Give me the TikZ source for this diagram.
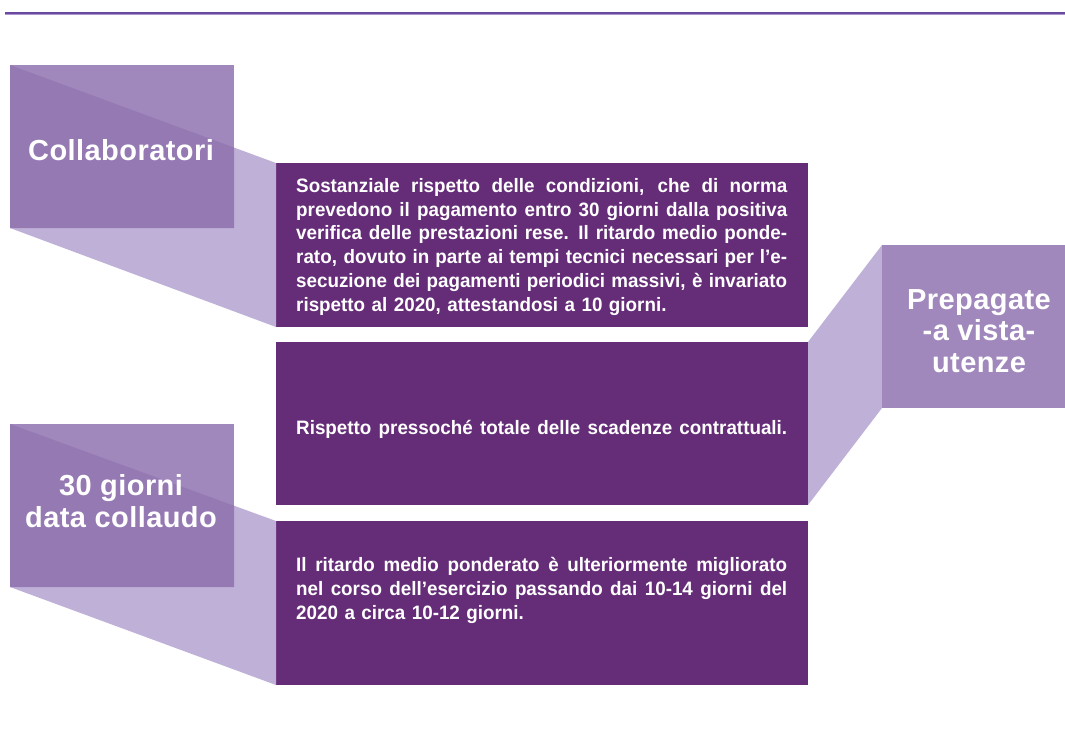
\documentclass[tikz,border=0pt]{standalone}
\usepackage{fontspec}
\usetikzlibrary{calc}
\setmainfont{Liberation Sans}
\newfontfamily\bodyfont[FakeStretch=0.97]{Liberation Sans}
\newfontfamily\labelfont[LetterSpace=1.5]{Liberation Sans}
\definecolor{darkbox}{HTML}{652C77}
\definecolor{labbox}{HTML}{A088BC}
\definecolor{overlap}{HTML}{9579B3}
\definecolor{trap}{HTML}{BFB0D8}
\definecolor{topdark}{HTML}{6A4A9E}
\definecolor{toplight}{HTML}{AE95CF}
\newcommand{\jline}[1]{\leavevmode\hbox to 491pt{\spaceskip=0.2em plus 1fil minus 0.1em\relax #1}}
\begin{document}
\begin{tikzpicture}[x=1pt,y=-1pt,
  textbox/.style={fill=darkbox,draw=none,minimum width=532pt,minimum height=164pt,anchor=north west,inner sep=0pt,outer sep=0pt},
  labelbox/.style={fill=labbox,draw=none,minimum width=224pt,minimum height=163pt,anchor=north west,inner sep=0pt,outer sep=0pt},
  bodytext/.style={text=white,anchor=north west,inner sep=0pt,text width=491pt,align=left,font=\bodyfont\bfseries\fontsize{19.4}{23.8}\selectfont},
  labeltext/.style={text=white,inner sep=0pt,align=center,font=\labelfont\bfseries\fontsize{29}{31.5}\selectfont},
  trapfill/.style={fill=trap,draw=none},
  overfill/.style={fill=overlap,draw=none}]
\useasboundingbox (0,0) rectangle (1065,728);
% top rule
\fill[topdark] (5,11.8) rectangle (1065,13.8);
\fill[toplight] (5,13.8) rectangle (1065,15.2);
% boxes (named)
\node[textbox] (b1) at (276,163) {};
\node[textbox,minimum height=163pt] (b2) at (276,342) {};
\node[textbox,minimum height=164pt] (b3) at (276,521) {};
\node[labelbox] (l1) at (10,65) {};
\node[labelbox] (l3) at (10,424) {};
\node[labelbox,minimum width=183pt] (l2) at (882,245) {};
% trapezoid connectors
\fill[trapfill] (l1.north west) -- (b1.north west) -- (b1.south west) -- (l1.south west) -- cycle;
\fill[trapfill] (l3.north west) -- (b3.north west) -- (b3.south west) -- (l3.south west) -- cycle;
\fill[trapfill] (b2.north east) -- (l2.north west) -- (l2.south west) -- (b2.south east) -- cycle;
% redraw label boxes over the connectors
\fill[labbox] (l1.north west) rectangle (l1.south east);
\fill[labbox] (l3.north west) rectangle (l3.south east);
\fill[labbox] (l2.north west) rectangle (l2.south east);
% overlap regions
\fill[overfill] (l1.north west) -- ($(l1.north west)!{224/266}!(b1.north west)$) -- (l1.south east) -- (l1.south west) -- cycle;
\fill[overfill] (l3.north west) -- ($(l3.north west)!{224/266}!(b3.north west)$) -- (l3.south east) -- (l3.south west) -- cycle;
% label texts
\node[labeltext] (c1) at (121,150) {Collaboratori};
\node[labeltext] (c3) at (121,501) {30 giorni\\data collaudo};
\node[labeltext] (c2) at (979,331) {Prepagate\\-a vista-\\utenze};
% body texts
\node[bodytext] (t1) at (296,178) {%
\jline{Sostanziale rispetto delle condizioni, che di norma}\\
\jline{prevedono il pagamento entro 30 giorni dalla positiva}\\
\jline{verifica delle prestazioni rese. Il ritardo medio ponde-}\\
\jline{rato, dovuto in parte ai tempi tecnici necessari per l’e-}\\
\jline{secuzione dei pagamenti periodici massivi, è invariato}\\
rispetto al 2020, attestandosi a 10 giorni.};
\node[bodytext] (t2) at (296,420) {\jline{Rispetto pressoché totale delle scadenze contrattuali.}};
\node[bodytext] (t3) at (296,557) {%
\jline{Il ritardo medio ponderato è ulteriormente migliorato}\\
\jline{nel corso dell’esercizio passando dai 10-14 giorni del}\\
2020 a circa 10-12 giorni.};
\end{tikzpicture}
\end{document}
